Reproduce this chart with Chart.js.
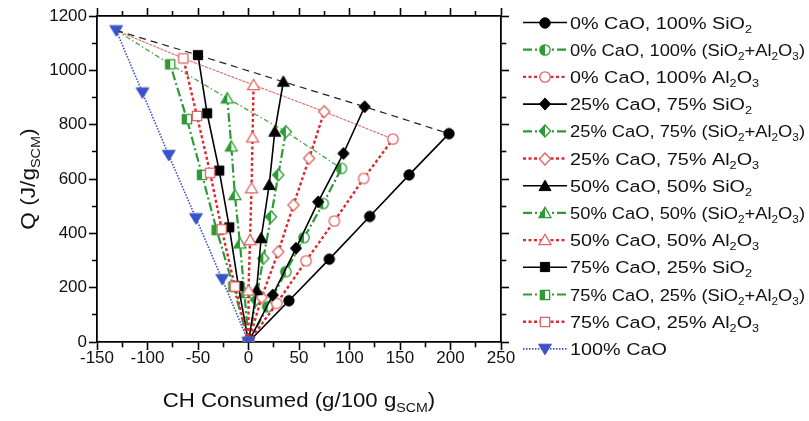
<!DOCTYPE html>
<html>
<head>
<meta charset="utf-8">
<script src="https://cdn.jsdelivr.net/npm/chart.js@4.4.1/dist/chart.umd.min.js"></script>
<style>
  html, body { margin: 0; padding: 0; background: #fff; }
  #wrap { width: 809px; height: 421px; }
</style>
</head>
<body>
<div id="wrap"><canvas id="heatChart" width="809" height="421"></canvas></div>
<script>
// CH consumed (g/100 g SCM) against heat release Q (J/g SCM), one series per glass composition
const ca0SiX   = [0, 40, 80, 120, 159, 198.5];
const ca0SiY   = [0, 152, 305, 462, 615, 767];
const ca0MixX  = [0, 19, 37, 55, 74, 92];
const ca0MixY  = [0, 130, 259, 384, 510, 639];
const ca0AlX   = [0, 28, 57, 85, 114, 143];
const ca0AlY   = [0, 142, 299, 445, 602, 747];
const ca25SiX  = [0, 24, 47, 69, 94, 115];
const ca25SiY  = [0, 173, 345, 516, 694, 866];
const ca25MixX = [0, 7.5, 14.7, 22.3, 29.5, 37];
const ca25MixY = [0, 155, 308, 461, 615, 774];
const ca25AlX  = [0, 13, 29.5, 44.5, 60, 75];
const ca25AlY  = [0, 164, 332, 504, 676, 848];
const ca50SiX  = [0, 8, 12.5, 20.5, 26, 34.5];
const ca50SiY  = [0, 191, 382, 578, 774, 958];
const ca50MixX = [0, -4, -8.5, -13.5, -17, -21];
const ca50MixY = [0, 180, 363, 541, 720, 897];
const ca50AlX  = [0, 0, 1.5, 3, 4, 5];
const ca50AlY  = [0, 190, 375, 566, 753, 946];
const ca75SiX  = [0, -10, -19, -29, -41, -50];
const ca75SiY  = [0, 206, 422, 631, 842, 1056];
const ca75MixX = [0, -15, -31.5, -46, -61, -77.5];
const ca75MixY = [0, 204, 412, 615, 820, 1022];
const ca75AlX  = [0, -13.5, -26.5, -38, -51, -64.5];
const ca75AlY  = [0, 204, 415, 623, 832, 1044];
const ca100X   = [0, -26, -52, -79, -105, -131];
const ca100Y   = [0, 231, 455, 688, 918, 1147];

const seriesLabels = [
    '0% CaO, 100% SiO_{2}',
    '0% CaO, 100% (SiO_{2}+Al_{2}O_{3})',
    '0% CaO, 100% Al_{2}O_{3}',
    '25% CaO, 75% SiO_{2}',
    '25% CaO, 75% (SiO_{2}+Al_{2}O_{3})',
    '25% CaO, 75% Al_{2}O_{3}',
    '50% CaO, 50% SiO_{2}',
    '50% CaO, 50% (SiO_{2}+Al_{2}O_{3})',
    '50% CaO, 50% Al_{2}O_{3}',
    '75% CaO, 25% SiO_{2}',
    '75% CaO, 25% (SiO_{2}+Al_{2}O_{3})',
    '75% CaO, 25% Al_{2}O_{3}',
    '100% CaO'
];
const seriesX = [ca0SiX, ca0MixX, ca0AlX, ca25SiX, ca25MixX, ca25AlX,
                 ca50SiX, ca50MixX, ca50AlX, ca75SiX, ca75MixX, ca75AlX, ca100X];
const seriesY = [ca0SiY, ca0MixY, ca0AlY, ca25SiY, ca25MixY, ca25AlY,
                 ca50SiY, ca50MixY, ca50AlY, ca75SiY, ca75MixY, ca75AlY, ca100Y];
const seriesKind  = ['si', 'mix', 'al', 'si', 'mix', 'al', 'si', 'mix', 'al', 'si', 'mix', 'al', 'ca'];
const seriesShape = ['circle', 'circle', 'circle', 'diamond', 'diamond', 'diamond',
                     'triangle', 'triangle', 'triangle', 'square', 'square', 'square', 'triDown'];

const lineStyles = {
    si:  { color: '#000000', width: 1.6, dash: [],           marker: 'solid', markerColor: '#000000' },
    mix: { color: '#2e9a36', width: 2.2, dash: [9, 3, 2, 3], marker: 'half',  markerColor: '#2e9a36' },
    al:  { color: '#e3262b', width: 2.4, dash: [3, 2.5],     marker: 'open',  markerColor: '#e06464' },
    ca:  { color: '#3b4fc4', width: 1.6, dash: [1.5, 1.5],   marker: 'solid', markerColor: '#3a52c6' }
};

const FONT = '"Liberation Sans", Arial, sans-serif';

function tracePath(g, shape, cx, cy) {
    g.beginPath();
    switch (shape) {
        case 'circle': g.arc(cx, cy, 5.2, 0, Math.PI * 2); break;
        case 'square': g.rect(cx - 4.6, cy - 4.6, 9.2, 9.2); break;
        case 'diamond':
            g.moveTo(cx, cy - 6); g.lineTo(cx + 5.6, cy); g.lineTo(cx, cy + 6); g.lineTo(cx - 5.6, cy);
            break;
        case 'triangle':
            g.moveTo(cx, cy - 5.8); g.lineTo(cx + 6, cy + 4.6); g.lineTo(cx - 6, cy + 4.6);
            break;
        case 'triDown':
            g.moveTo(cx, cy + 5.8); g.lineTo(cx + 6.4, cy - 4.8); g.lineTo(cx - 6.4, cy - 4.8);
            break;
    }
    g.closePath();
}

// marker bitmaps: filled, open, or left-half filled
function makeMarker(shape, kind, color) {
    const c = document.createElement('canvas');
    c.width = 16; c.height = 16;
    const g = c.getContext('2d');
    const cx = 8, cy = 8;
    if (kind === 'solid') {
        tracePath(g, shape, cx, cy);
        g.fillStyle = color; g.fill();
        g.lineWidth = 1; g.strokeStyle = color; g.stroke();
        return c;
    }
    tracePath(g, shape, cx, cy);
    g.fillStyle = '#fff'; g.fill();
    if (kind === 'half') {
        g.save();
        g.beginPath(); g.rect(0, 0, cx, 16); g.clip();
        tracePath(g, shape, cx, cy);
        g.fillStyle = color; g.fill();
        g.restore();
    }
    tracePath(g, shape, cx, cy);
    g.lineWidth = 1.3; g.strokeStyle = color; g.stroke();
    return c;
}

function toPoints(xs, ys) {
    return xs.map((x, i) => ({ x: x, y: ys[i] }));
}

const datasets = seriesLabels.map((label, i) => {
    const st = lineStyles[seriesKind[i]];
    return {
        label: label,
        data: toPoints(seriesX[i], seriesY[i]),
        showLine: true,
        borderColor: st.color,
        borderWidth: st.width,
        borderDash: st.dash,
        pointStyle: makeMarker(seriesShape[i], st.marker, st.markerColor),
        pointRadius: 5,
        pointHoverRadius: 5,
        order: -i,
        inLegend: true
    };
});

// tie lines joining the end points of each family back to pure CaO
function tieLine(group, color, width, dash) {
    const xs = [ca100X[5]], ys = [ca100Y[5]];
    group.forEach(k => {
        xs.push(seriesX[k][seriesX[k].length - 1]);
        ys.push(seriesY[k][seriesY[k].length - 1]);
    });
    return {
        data: toPoints(xs, ys), showLine: true, borderColor: color, borderWidth: width,
        borderDash: dash, pointRadius: 0, order: 100
    };
}
datasets.push(tieLine([9, 6, 3, 0], '#222222', 1.2, [7, 5]));
datasets.push(tieLine([10, 7, 4, 1], '#45a84a', 1.3, [5, 2.5, 1.5, 2.5]));
datasets.push(tieLine([11, 8, 5, 2], '#e36a6a', 1.1, [3, 1]));

// text with _{...} subscript runs, stretched sideways; maxWidth squeezes long strings
function drawRich(g, text, size, x, y, stretch, align, maxWidth) {
    const parts = [];
    const re = /_\{([^}]*)\}/g;
    let last = 0, m;
    while ((m = re.exec(text))) {
        if (m.index > last) parts.push({ t: text.slice(last, m.index), sub: false });
        parts.push({ t: m[1], sub: true });
        last = re.lastIndex;
    }
    if (last < text.length) parts.push({ t: text.slice(last), sub: false });
    const fontOf = p => (p.sub ? size * 0.64 : size) + 'px ' + FONT;
    let w = 0;
    parts.forEach(p => { g.font = fontOf(p); p.w = g.measureText(p.t).width; w += p.w; });
    if (maxWidth && w * stretch > maxWidth) stretch = maxWidth / w;
    g.save();
    g.translate(x, y);
    g.scale(stretch, 1);
    let cx = align === 'center' ? -w / 2 : 0;
    g.textBaseline = 'alphabetic';
    g.textAlign = 'left';
    parts.forEach(p => {
        g.font = fontOf(p);
        g.fillText(p.t, cx, p.sub ? size * 0.24 : 0);
        cx += p.w;
    });
    g.restore();
}

const annotations = {
    id: 'annotations',
    afterDraw(chart) {
        const g = chart.ctx;
        const area = chart.chartArea;
        g.save();
        g.fillStyle = '#111';
        drawRich(g, 'CH Consumed (g/100 g_{SCM})', 19.5, (area.left + area.right) / 2, 407, 1.14, 'center');
        g.save();
        g.translate(35, (area.top + area.bottom) / 2);
        g.rotate(-Math.PI / 2);
        drawRich(g, 'Q (J/g_{SCM})', 19.5, 0, 0, 1.16, 'center');
        g.restore();

        // legend: line sample with marker, then label
        chart.data.datasets.filter(d => d.inLegend).forEach((ds, i) => {
            const y = area.top + 6.5 + 27.2 * i;
            const x0 = area.right + 22, x1 = area.right + 66;
            g.save();
            g.strokeStyle = ds.borderColor;
            g.lineWidth = ds.borderWidth;
            g.setLineDash(ds.borderDash);
            g.beginPath(); g.moveTo(x0, y); g.lineTo(x1, y); g.stroke();
            g.restore();
            const mk = ds.pointStyle;
            g.drawImage(mk, Math.round((x0 + x1) / 2 - mk.width / 2), Math.round(y - mk.height / 2));
            g.fillStyle = '#111';
            drawRich(g, ds.label, 16.8, area.right + 69, y + 6, 1.18, 'left', 235);
        });
        g.restore();
    }
};

function isMajor(v, step) {
    return Math.abs(v % step) < 1e-6;
}
// minor ticks are shortened with a dash pattern; top/left ticks are stroked from the outer end
function tickDash(step, fromOuter) {
    return c => isMajor(c.tick.value, step) ? [] : (fromOuter ? [0, 3, 5, 50] : [4.5, 50]);
}

const tickFont = { family: FONT, size: 17, lineHeight: 1 };
const frame = { display: true, color: '#000', width: 1.8 };
function gridFor(step, fromOuter) {
    return {
        drawOnChartArea: false, drawTicks: true, tickLength: 8, tickWidth: 1.6,
        tickColor: '#000', tickBorderDash: tickDash(step, fromOuter)
    };
}

new Chart(document.getElementById('heatChart'), {
    type: 'scatter',
    data: { datasets: datasets },
    options: {
        responsive: false,
        animation: false,
        events: [],
        layout: { padding: 0 },
        plugins: { legend: { display: false }, tooltip: { enabled: false } },
        scales: {
            x: {
                type: 'linear', position: 'bottom', min: -150, max: 250,
                ticks: {
                    stepSize: 25, autoSkip: false, maxRotation: 0, padding: 0, color: '#111', font: tickFont,
                    callback: v => isMajor(v, 50) ? String(v) : ''
                },
                grid: gridFor(50, false), border: frame,
                afterFit: s => { s.height = 79; }
            },
            y: {
                type: 'linear', position: 'left', min: 0, max: 1200,
                ticks: {
                    stepSize: 100, autoSkip: false, padding: 2, color: '#111', font: tickFont,
                    callback: v => isMajor(v, 200) ? String(v) : ''
                },
                grid: gridFor(200, true), border: frame,
                afterFit: s => { s.width = 97; }
            },
            x2: {
                type: 'linear', position: 'top', min: -150, max: 250,
                ticks: { display: false, stepSize: 25, autoSkip: false },
                grid: gridFor(50, true), border: frame,
                afterFit: s => { s.height = 16; }
            },
            y2: {
                type: 'linear', position: 'right', min: 0, max: 1200,
                ticks: { display: false, stepSize: 100, autoSkip: false },
                grid: gridFor(200, false), border: frame,
                afterFit: s => { s.width = 308; }
            }
        }
    },
    plugins: [annotations]
});
</script>
</body>
</html>
